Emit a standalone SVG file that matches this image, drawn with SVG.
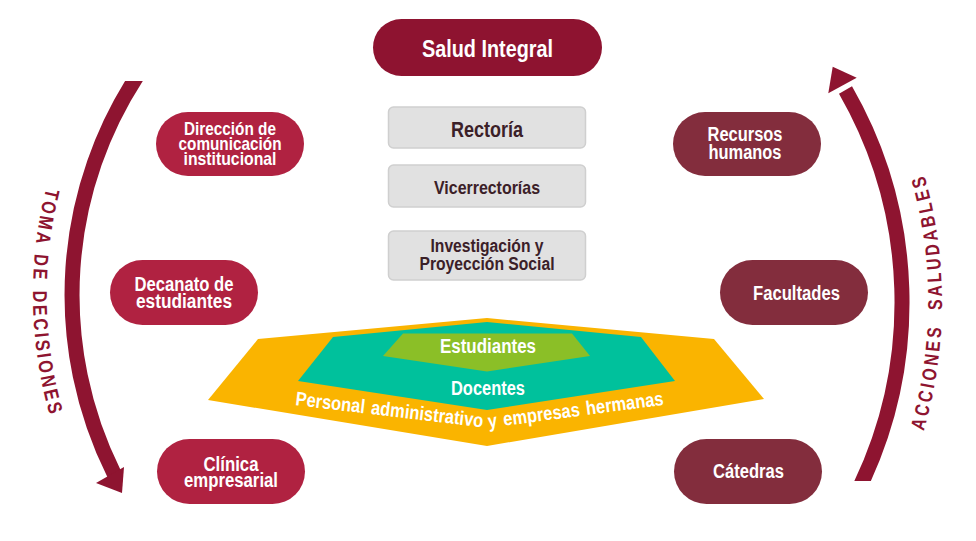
<svg xmlns="http://www.w3.org/2000/svg" width="976" height="541" viewBox="0 0 976 541">
<style>
.lbl{font-family:"Liberation Sans Narrow","Liberation Sans",Arial,sans-serif;font-weight:bold;text-anchor:middle;fill:#ffffff}
.gray{fill:#e1e1e1;stroke:#cfcfcf;stroke-width:1.5}
.glbl{font-family:"Liberation Sans Narrow","Liberation Sans",Arial,sans-serif;font-weight:bold;text-anchor:middle;fill:#3b2028}
.lnode{fill:#b02241}
.rnode{fill:#832d3d}
.arc{fill:none;stroke:#8e1430;stroke-width:15}
.head{fill:#8e1430}
.arctxt{font-family:"Liberation Sans Narrow","Liberation Sans",Arial,sans-serif;font-size:20px;font-weight:bold;fill:#8e1430;text-anchor:middle}
</style>
<defs>
<clipPath id="clipL"><rect x="0" y="81" width="300" height="460"/></clipPath>
<clipPath id="clipR"><rect x="700" y="0" width="276" height="481"/></clipPath>
<path id="pathL" d="M77.6,102 A440,440 0 0 0 84.7,502"/>
<path id="pathR" d="M896.9,502 A466,466 0 0 0 896.9,102"/>
<path id="pathP" d="M295,405 L488,428 L670,404"/>
</defs>
<rect width="976" height="541" fill="#ffffff"/>

<g id="connectors">
<path class="arc" clip-path="url(#clipL)" d="M141.1,70 A401,401 0 0 0 114.2,474"/>
<polygon class="head" points="96,483 124,467 122,493"/>
<path class="arc" clip-path="url(#clipR)" d="M858.3,490 A426,426 0 0 0 845.5,90"/>
<polygon class="head" points="828.3,93.3 856.7,77.7 832.7,66.7"/>
</g>

<g id="label-toma">
<text class="arctxt" letter-spacing="3.5" word-spacing="2"><textPath href="#pathL" startOffset="50%" textLength="232" lengthAdjust="spacingAndGlyphs">TOMA DE DECISIONES</textPath></text>
</g>
<g id="label-acciones">
<text class="arctxt" letter-spacing="4" word-spacing="9"><textPath href="#pathR" startOffset="50%" textLength="262" lengthAdjust="spacingAndGlyphs">ACCIONES SALUDABLES</textPath></text>
</g>

<g id="salud-integral">
<rect x="373" y="19" width="229" height="57" rx="28.5" fill="#8e1330"/>
<text class="lbl" x="487.5" y="56.5" font-size="24" textLength="131" lengthAdjust="spacingAndGlyphs">Salud Integral</text>
</g>

<g id="rectoria">
<rect class="gray" x="388.5" y="107" width="197" height="41" rx="5"/>
<text class="glbl" x="487" y="136.5" font-size="22" textLength="72" lengthAdjust="spacingAndGlyphs">Rectoría</text>
</g>
<g id="vicerrectorias">
<rect class="gray" x="388.5" y="165" width="197" height="42" rx="5"/>
<text class="glbl" x="487" y="194" font-size="19" textLength="106" lengthAdjust="spacingAndGlyphs">Vicerrectorías</text>
</g>
<g id="investigacion">
<rect class="gray" x="388.5" y="231" width="197" height="49" rx="5"/>
<text class="glbl" x="487" y="251.5" font-size="18" textLength="113" lengthAdjust="spacingAndGlyphs">Investigación y</text>
<text class="glbl" x="487" y="270" font-size="18" textLength="135" lengthAdjust="spacingAndGlyphs">Proyección Social</text>
</g>

<g id="direccion">
<rect class="lnode" x="156" y="112" width="148" height="64" rx="32"/>
<text class="lbl" x="230" y="135" font-size="18.5" textLength="92" lengthAdjust="spacingAndGlyphs">Dirección de</text>
<text class="lbl" x="230" y="150" font-size="18.5" textLength="103" lengthAdjust="spacingAndGlyphs">comunicación</text>
<text class="lbl" x="230" y="165" font-size="18.5" textLength="93" lengthAdjust="spacingAndGlyphs">institucional</text>
</g>
<g id="decanato">
<rect class="lnode" x="110" y="260" width="148" height="65" rx="32.5"/>
<text class="lbl" x="184" y="290.5" font-size="20" textLength="99" lengthAdjust="spacingAndGlyphs">Decanato de</text>
<text class="lbl" x="184" y="308" font-size="20" textLength="96" lengthAdjust="spacingAndGlyphs">estudiantes</text>
</g>
<g id="clinica">
<rect class="lnode" x="157" y="439" width="148" height="65" rx="32.5"/>
<text class="lbl" x="231" y="470.5" font-size="20" textLength="55" lengthAdjust="spacingAndGlyphs">Clínica</text>
<text class="lbl" x="231" y="487" font-size="20" textLength="94" lengthAdjust="spacingAndGlyphs">empresarial</text>
</g>

<g id="recursos">
<rect class="rnode" x="673" y="112" width="148" height="64" rx="32"/>
<text class="lbl" x="745" y="141" font-size="20" textLength="75" lengthAdjust="spacingAndGlyphs">Recursos</text>
<text class="lbl" x="745" y="159" font-size="20" textLength="73" lengthAdjust="spacingAndGlyphs">humanos</text>
</g>
<g id="facultades">
<rect class="rnode" x="720" y="260" width="148" height="65" rx="32.5"/>
<text class="lbl" x="796.5" y="300" font-size="20" textLength="87" lengthAdjust="spacingAndGlyphs">Facultades</text>
</g>
<g id="catedras">
<rect class="rnode" x="674" y="439" width="148" height="65" rx="32.5"/>
<text class="lbl" x="748.5" y="478" font-size="20" textLength="71" lengthAdjust="spacingAndGlyphs">Cátedras</text>
</g>

<g id="personal">
<polygon points="258,339 487,318 714,339 764,399 487,446 208,400" fill="#fab400"/>
</g>
<g id="docentes">
<polygon points="333,337 487,322 641,337 675,381 487,410 298,381" fill="#00c19c"/>
<text class="lbl" x="488" y="395" font-size="20" textLength="74" lengthAdjust="spacingAndGlyphs">Docentes</text>
</g>
<g id="estudiantes">
<polygon points="403,333.5 572,333.5 590,356 487,371.5 383,356" fill="#8bbf27"/>
<text class="lbl" x="488" y="352.5" font-size="20" textLength="96" lengthAdjust="spacingAndGlyphs">Estudiantes</text>
</g>
<g id="personal-label">
<text class="lbl" font-size="19.5" word-spacing="2" style="text-anchor:start"><textPath href="#pathP" textLength="372" lengthAdjust="spacingAndGlyphs">Personal administrativo  y empresas hermanas</textPath></text>
</g>
</svg>
